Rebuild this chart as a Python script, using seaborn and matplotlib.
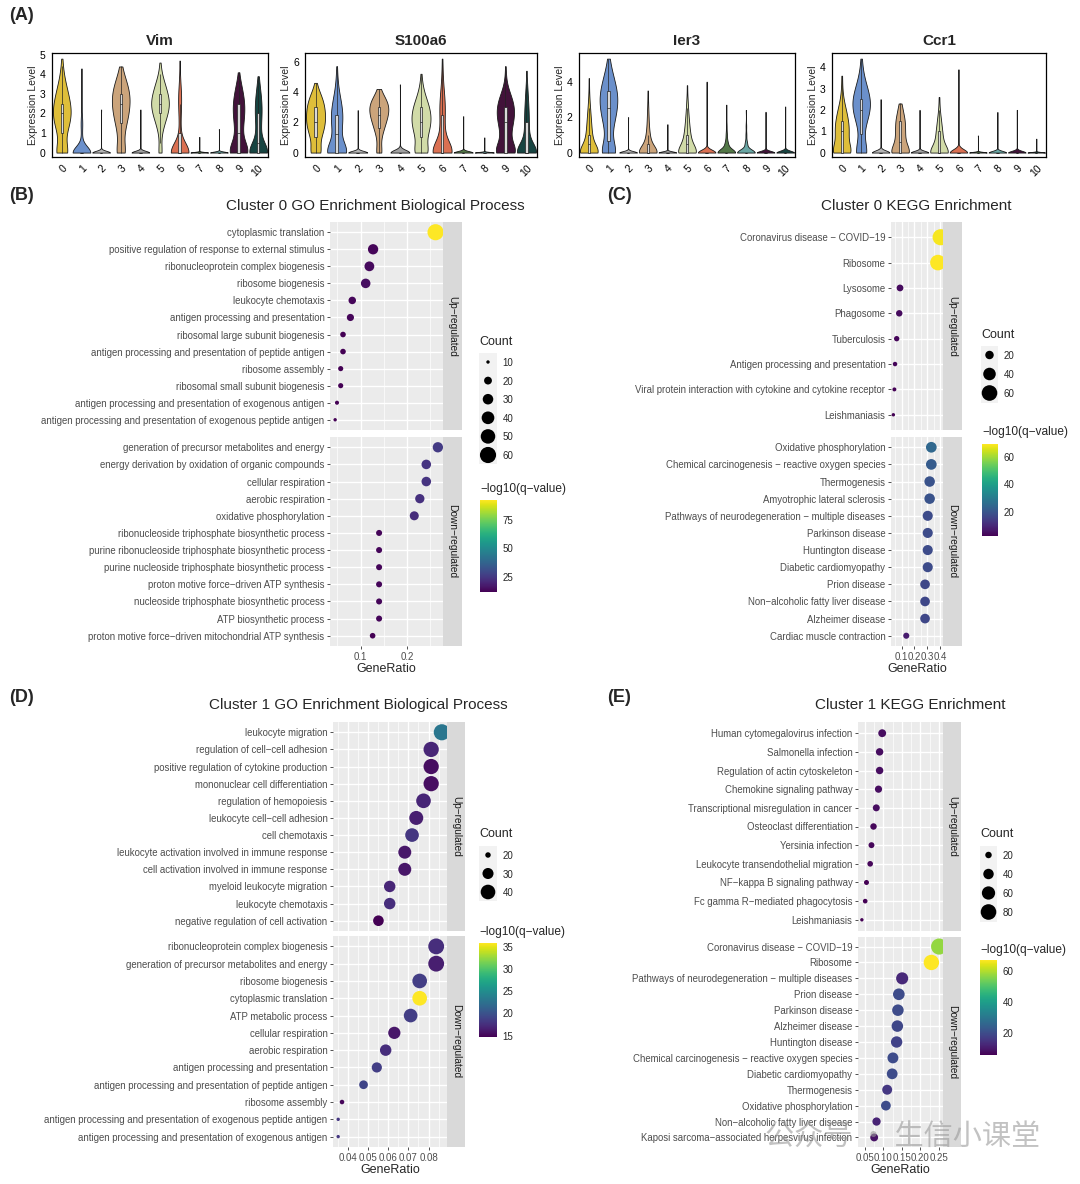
import numpy as np
import pandas as pd
import matplotlib
matplotlib.use("Agg")
import matplotlib.pyplot as plt
from matplotlib.colors import Normalize
from matplotlib.ticker import MultipleLocator, AutoMinorLocator, FormatStrFormatter
import seaborn as sns

W, H = 1080, 1184

sns.set_style("white")
plt.rcParams['font.family'] = ['Liberation Sans', 'DejaVu Sans']

# ---------------- (A) violin data: (expression level, number of cells) per cluster ----------------
clusters = [str(i) for i in range(11)]
cluster_colors = ["#F9CF1F", "#5B8DDB", "#B5B5B5", "#D8A46E", "#A0A0A0", "#D6E3A0",
                  "#F0643C", "#4E7F3E", "#5FB0AE", "#4A0B3F", "#0F4C47"]
genes = ["Vim", "S100a6", "Ier3", "Ccr1"]

vim = [
    [(0, 20), (0.5, 2), (1, 8), (1.5, 14), (2, 17), (2.5, 15), (3, 11), (3.5, 7), (4, 3), (4.4, 1), (4.8, 1)],
    [(0, 80), (0.5, 4), (1, 3), (1.5, 6), (2, 2), (2.5, 1), (3, 1), (3.5, 1), (4.3, 1)],
    [(0, 100), (2.2, 1)],
    [(0, 14), (0.5, 3), (1, 6), (1.5, 10), (2, 14), (2.5, 16), (3, 16), (3.5, 12), (4, 5), (4.4, 1)],
    [(0, 100), (2.2, 1)],
    [(0, 5), (0.5, 1), (1, 3), (1.5, 8), (2, 14), (2.5, 18), (3, 14), (3.5, 9), (4, 3), (4.6, 1)],
    [(0, 70), (0.5, 6), (1, 3), (1.5, 3), (2, 4), (2.5, 6), (3, 6), (3.5, 3), (4, 1), (4.7, 1)],
    [(0, 100), (0.8, 1)],
    [(0, 100), (1.2, 1)],
    [(0, 40), (0.5, 10), (1, 8), (1.5, 11), (2, 14), (2.5, 14), (3, 11), (3.5, 6), (4.1, 1)],
    [(0, 55), (0.5, 10), (1, 7), (1.5, 9), (2, 11), (2.5, 11), (3, 8), (3.5, 4), (3.9, 1)],
]
s100a6 = [
    [(0, 14), (0.5, 3), (1, 8), (1.5, 12), (2, 14), (2.5, 14), (3, 13), (3.5, 11), (4, 6), (4.6, 1)],
    [(0, 35), (0.5, 6), (1, 5), (1.5, 7), (2, 9), (2.5, 9), (3, 8), (3.5, 6), (4, 3), (4.5, 2), (5, 1), (5.7, 1)],
    [(0, 100), (2.8, 1)],
    [(0, 8), (0.5, 2), (1, 4), (1.5, 8), (2, 12), (2.5, 16), (3, 18), (3.5, 14), (4, 3), (4.2, 1)],
    [(0, 100), (4.5, 1)],
    [(0, 18), (0.5, 5), (1, 8), (1.5, 12), (2, 14), (2.5, 14), (3, 12), (3.5, 8), (4, 4), (4.5, 2), (5.2, 1)],
    [(0, 45), (0.5, 8), (1, 4), (1.5, 4), (2, 4), (2.5, 5), (3, 5), (3.5, 5), (4, 3), (4.5, 2), (5, 1), (5.5, 1), (6.2, 1)],
    [(0, 100), (2.4, 1)],
    [(0, 100), (1.0, 1)],
    [(0, 35), (0.5, 10), (1, 8), (1.5, 10), (2, 14), (2.5, 16), (3, 16), (3.5, 13), (4, 7), (4.5, 2), (5, 1), (5.7, 1)],
    [(0, 55), (0.5, 10), (1, 6), (1.5, 6), (2, 6), (2.5, 6), (3, 5), (3.5, 4), (4, 3), (4.5, 2), (5.4, 1)],
]
ier3 = [
    [(0, 45), (0.5, 14), (1, 10), (1.5, 8), (2, 6), (2.5, 4), (3, 2), (3.5, 1), (4.2, 1)],
    [(0, 30), (0.5, 4), (1, 5), (1.5, 9), (2, 13), (2.5, 16), (3, 18), (3.5, 16), (4, 12), (4.5, 7), (5, 3), (5.3, 1)],
    [(0, 100), (2.0, 1)],
    [(0, 45), (0.5, 12), (1, 7), (1.5, 4), (2, 3), (2.5, 2), (3, 1), (3.5, 1)],
    [(0, 100), (1.6, 1)],
    [(0, 40), (0.5, 14), (1, 10), (1.5, 7), (2, 5), (2.5, 3), (3, 2), (3.8, 1)],
    [(0, 100), (4.0, 1)],
    [(0, 60), (0.5, 10), (1, 4), (1.5, 2), (2, 1), (2.7, 1)],
    [(0, 60), (0.5, 8), (1, 3), (1.5, 2), (2.4, 1)],
    [(0, 100), (2.3, 1)],
    [(0, 100), (2.6, 1)],
]
ccr1 = [
    [(0, 24), (0.5, 10), (1, 14), (1.5, 12), (2, 8), (2.5, 3), (3, 1), (3.6, 1)],
    [(0, 16), (0.5, 2), (1, 3), (1.5, 8), (2, 14), (2.5, 14), (3, 9), (3.5, 4), (4, 1), (4.4, 1)],
    [(0, 100), (2.5, 1)],
    [(0, 24), (0.5, 10), (1, 10), (1.5, 10), (2, 5), (2.3, 1)],
    [(0, 100), (2.0, 1)],
    [(0, 28), (0.5, 10), (1, 8), (1.5, 5), (2, 2), (2.6, 1)],
    [(0, 100), (3.9, 1)],
    [(0, 100), (0.8, 1)],
    [(0, 100), (1.9, 1)],
    [(0, 100), (2.0, 1)],
    [(0, 100), (0.65, 1)],
]
violin_data = [vim, s100a6, ier3, ccr1]
violin_yticks = [[0, 1, 2, 3, 4, 5], [0, 2, 4, 6], [0, 2, 4], [0, 1, 2, 3, 4]]

# ---------------- (B) Cluster 0 GO BP ----------------
B_up_terms = ["cytoplasmic translation", "positive regulation of response to external stimulus",
              "ribonucleoprotein complex biogenesis", "ribosome biogenesis", "leukocyte chemotaxis",
              "antigen processing and presentation", "ribosomal large subunit biogenesis",
              "antigen processing and presentation of peptide antigen", "ribosome assembly",
              "ribosomal small subunit biogenesis", "antigen processing and presentation of exogenous antigen",
              "antigen processing and presentation of exogenous peptide antigen"]
B_up_ratio = [0.262, 0.127, 0.119, 0.111, 0.082, 0.078, 0.062, 0.062, 0.057, 0.057, 0.049, 0.045]
B_up_count = [60, 29, 27, 26, 19, 18, 14, 14, 13, 13, 11, 10]
B_up_q = [92, 13, 14, 15, 13, 13, 12, 12, 12, 12, 12, 12]
B_down_terms = ["generation of precursor metabolites and energy", "energy derivation by oxidation of organic compounds",
                "cellular respiration", "aerobic respiration", "oxidative phosphorylation",
                "ribonucleoside triphosphate biosynthetic process",
                "purine ribonucleoside triphosphate biosynthetic process",
                "purine nucleoside triphosphate biosynthetic process", "proton motive force−driven ATP synthesis",
                "nucleoside triphosphate biosynthetic process", "ATP biosynthetic process",
                "proton motive force−driven mitochondrial ATP synthesis"]
B_down_ratio = [0.267, 0.242, 0.242, 0.228, 0.216, 0.140, 0.140, 0.140, 0.140, 0.140, 0.140, 0.126]
B_down_count = [29, 26, 26, 25, 24, 15, 15, 15, 15, 15, 15, 14]
B_down_q = [26, 24, 24, 23, 22, 13, 13, 13, 13, 13, 13, 12]

# ---------------- (C) Cluster 0 KEGG ----------------
C_up_terms = ["Coronavirus disease − COVID−19", "Ribosome", "Lysosome", "Phagosome", "Tuberculosis",
              "Antigen processing and presentation",
              "Viral protein interaction with cytokine and cytokine receptor", "Leishmaniasis"]
C_up_ratio = [0.405, 0.384, 0.087, 0.081, 0.061, 0.048, 0.043, 0.035]
C_up_count = [64, 60, 14, 13, 10, 8, 7, 6]
C_up_q = [68, 69, 5, 5, 4, 4, 3, 3]
C_down_terms = ["Oxidative phosphorylation", "Chemical carcinogenesis − reactive oxygen species", "Thermogenesis",
                "Amyotrophic lateral sclerosis", "Pathways of neurodegeneration − multiple diseases",
                "Parkinson disease", "Huntington disease", "Diabetic cardiomyopathy", "Prion disease",
                "Non−alcoholic fatty liver disease", "Alzheimer disease", "Cardiac muscle contraction"]
C_down_ratio = [0.332, 0.332, 0.319, 0.319, 0.304, 0.304, 0.304, 0.304, 0.283, 0.283, 0.283, 0.136]
C_down_count = [30, 30, 29, 29, 27, 27, 27, 27, 25, 25, 25, 12]
C_down_q = [25, 22, 20, 20, 18, 18, 18, 18, 17, 17, 17, 8]

# ---------------- (D) Cluster 1 GO BP ----------------
D_up_terms = ["leukocyte migration", "regulation of cell−cell adhesion", "positive regulation of cytokine production",
              "mononuclear cell differentiation", "regulation of hemopoiesis", "leukocyte cell−cell adhesion",
              "cell chemotaxis", "leukocyte activation involved in immune response",
              "cell activation involved in immune response", "myeloid leukocyte migration",
              "leukocyte chemotaxis", "negative regulation of cell activation"]
D_up_ratio = [0.0866, 0.0813, 0.0813, 0.0813, 0.0775, 0.0739, 0.0718, 0.0682, 0.0682, 0.0607, 0.0607, 0.0551]
D_up_count = [45, 42, 42, 42, 40, 38, 37, 35, 35, 31, 31, 29]
D_up_q = [23, 17, 15.5, 15.5, 17, 16.5, 18, 16, 16, 17, 17.5, 14.7]
D_down_terms = ["ribonucleoprotein complex biogenesis", "generation of precursor metabolites and energy",
                "ribosome biogenesis", "cytoplasmic translation", "ATP metabolic process", "cellular respiration",
                "aerobic respiration", "antigen processing and presentation",
                "antigen processing and presentation of peptide antigen", "ribosome assembly",
                "antigen processing and presentation of exogenous peptide antigen",
                "antigen processing and presentation of exogenous antigen"]
D_down_ratio = [0.0838, 0.0838, 0.0756, 0.0756, 0.0711, 0.0630, 0.0587, 0.0543, 0.0477, 0.0370, 0.0351, 0.0351]
D_down_count = [44, 44, 40, 40, 37, 33, 31, 28, 25, 19, 18, 18]
D_down_q = [17.5, 16.5, 18.5, 35.8, 18.5, 16, 17.5, 18.5, 19, 15, 18, 18]

# ---------------- (E) Cluster 1 KEGG ----------------
E_up_terms = ["Human cytomegalovirus infection", "Salmonella infection", "Regulation of actin cytoskeleton",
              "Chemokine signaling pathway", "Transcriptional misregulation in cancer", "Osteoclast differentiation",
              "Yersinia infection", "Leukocyte transendothelial migration", "NF−kappa B signaling pathway",
              "Fc gamma R−mediated phagocytosis", "Leishmaniasis"]
E_up_ratio = [0.097, 0.090, 0.090, 0.087, 0.081, 0.0735, 0.068, 0.0645, 0.0545, 0.051, 0.042]
E_up_count = [26, 24, 24, 23, 22, 20, 18, 17, 15, 14, 11]
E_up_q = [8, 8, 8, 8, 8, 7, 7, 7, 6, 6, 6]
E_down_terms = ["Coronavirus disease − COVID−19", "Ribosome", "Pathways of neurodegeneration − multiple diseases",
                "Prion disease", "Parkinson disease", "Alzheimer disease", "Huntington disease",
                "Chemical carcinogenesis − reactive oxygen species", "Diabetic cardiomyopathy", "Thermogenesis",
                "Oxidative phosphorylation", "Non−alcoholic fatty liver disease",
                "Kaposi sarcoma−associated herpesvirus infection"]
E_down_ratio = [0.251, 0.230, 0.151, 0.142, 0.1395, 0.138, 0.136, 0.126, 0.124, 0.1105, 0.107, 0.0817, 0.0753]
E_down_count = [85, 78, 51, 48, 47, 47, 46, 43, 42, 37, 36, 28, 26]
E_down_q = [57, 67, 13, 20, 20, 19, 18, 20, 20, 16, 20, 12, 9]

fig = plt.figure(figsize=(W / 100, H / 100), dpi=100)


def fax(l, t, r, b):
    return fig.add_axes([l / W, 1 - b / H, (r - l) / W, (b - t) / H])


def ftext(x, y, s, **kw):
    fig.text(x / W, 1 - y / H, s, **kw)


# ---------------- panel A ----------------
violin_boxes = [(52, 53, 268, 157), (305, 53, 537, 157), (579, 53, 795, 157), (832, 53, 1046, 157)]
for gene, gdata, box, yt in zip(genes, violin_data, violin_boxes, violin_yticks):
    parts = []
    for cl, pairs in zip(clusters, gdata):
        vals, cnts = zip(*pairs)
        parts.append(pd.DataFrame({"cluster": cl, "expr": np.repeat(vals, cnts)}))
    df = pd.concat(parts, ignore_index=True)
    ax = fax(*box)
    sns.violinplot(data=df, x="cluster", y="expr", hue="cluster", order=clusters, hue_order=clusters,
                   palette=cluster_colors, density_norm="width", cut=0, inner=None, width=0.9,
                   linewidth=0.6, linecolor="#1a1a1a", legend=False, ax=ax)
    sns.boxplot(data=df, x="cluster", y="expr", order=clusters, width=0.12, showfliers=False,
                showcaps=False, color="#d9d9d9", linewidth=0.5, linecolor="#222222", ax=ax)
    ymax = df["expr"].max()
    ax.set_ylim(-0.045 * ymax * 1.05, ymax * 1.06)
    ax.set_yticks(yt)
    ax.set_xlabel("")
    ax.set_ylabel("Expression Level", fontsize=7.5, labelpad=1)
    ax.set_title(gene, fontsize=11, fontweight="bold", pad=6)
    for sp in ax.spines.values():
        sp.set_visible(True)
        sp.set_color("black")
        sp.set_linewidth(0.9)
    ax.tick_params(axis="both", labelsize=7.5, length=3, width=0.8, pad=1.5, colors="black")
    for lab in ax.get_xticklabels():
        lab.set_rotation(45)
        lab.set_ha("right")
        lab.set_rotation_mode("anchor")


# ---------------- dot plots ----------------
def facet(rect, strip_r, terms, ratio, count, q, xlim, snorm, qnorm, bottom, major, fmt, strip_label):
    ax = fax(*rect)
    df = pd.DataFrame({"term": terms, "GeneRatio": ratio, "Count": count, "q": q})
    ax.set_facecolor("#EBEBEB")
    sns.scatterplot(data=df, x="GeneRatio", y="term", size="Count", sizes=(6, 135), size_norm=snorm,
                    hue="q", palette="viridis", hue_norm=qnorm, linewidth=0, legend=False, ax=ax, zorder=3)
    n = len(terms)
    ax.set_ylim(n - 1 + 0.6, -0.6)
    ax.set_xlim(*xlim)
    ax.xaxis.set_major_locator(MultipleLocator(major))
    ax.xaxis.set_minor_locator(AutoMinorLocator(2))
    ax.xaxis.set_major_formatter(FormatStrFormatter(fmt))
    ax.grid(which="major", color="white", linewidth=1.0)
    ax.grid(which="minor", axis="x", color="white", linewidth=0.5)
    ax.set_axisbelow(True)
    for sp in ax.spines.values():
        sp.set_visible(False)
    ax.set_ylabel("")
    ax.tick_params(axis="y", labelsize=6.9, labelcolor="#4D4D4D", length=2.5, width=0.6,
                   color="#333333", pad=1.5, left=True)
    ax.tick_params(axis="x", which="minor", length=0)
    if bottom:
        ax.tick_params(axis="x", which="major", labelsize=7, labelcolor="#4D4D4D", length=2.5,
                       width=0.6, color="#333333", pad=1.5, bottom=True)
        ax.set_xlabel("GeneRatio", fontsize=9, labelpad=1)
    else:
        ax.tick_params(axis="x", which="major", bottom=False, labelbottom=False)
        ax.set_xlabel("")
    sax = fax(rect[2], rect[1], strip_r, rect[3])
    sax.set_facecolor("#D9D9D9")
    sax.set_xticks([])
    sax.set_yticks([])
    for sp in sax.spines.values():
        sp.set_visible(False)
    sax.text(0.5, 0.5, strip_label, rotation=270, ha="center", va="center", fontsize=7.3,
             color="#1A1A1A", transform=sax.transAxes)


def dot_panel(up, down, lay):
    terms_u, ratio_u, count_u, q_u = up
    terms_d, ratio_d, count_d, q_d = down
    allr = ratio_u + ratio_d
    lo, hi = min(allr), max(allr)
    xlim = (lo - 0.05 * (hi - lo), hi + 0.05 * (hi - lo))
    snorm = (min(count_u + count_d), max(count_u + count_d))
    qnorm = Normalize(min(q_u + q_d), max(q_u + q_d))
    l, r, sr = lay["x"]
    facet((l, lay["up"][0], r, lay["up"][1]), sr, terms_u, ratio_u, count_u, q_u, xlim, snorm, qnorm,
          False, lay["major"], lay["fmt"], "Up−regulated")
    facet((l, lay["down"][0], r, lay["down"][1]), sr, terms_d, ratio_d, count_d, q_d, xlim, snorm, qnorm,
          True, lay["major"], lay["fmt"], "Down−regulated")
    ftext(*lay["title_xy"], lay["title"], ha="center", va="center", fontsize=11)

    # size legend
    lv = lay["levels"]
    cx0, cx1 = lay["key_x"]
    ky, step = lay["key_y"]
    ftext(cx0, lay["count_y"], "Count", ha="left", va="center", fontsize=9)
    lax = fax(cx0, ky - step / 2, cx1, ky + step * (len(lv) - 0.5))
    lax.set_facecolor("#F2F2F2")
    sns.scatterplot(x=[0] * len(lv), y=list(range(len(lv))), size=lv, sizes=(6, 135), size_norm=snorm,
                    color="black", linewidth=0, legend=False, ax=lax)
    lax.set_xlim(-1, 1)
    lax.set_ylim(len(lv) - 0.5, -0.5)
    lax.set_xticks([])
    lax.set_yticks(range(len(lv)))
    lax.set_yticklabels([str(v) for v in lv])
    lax.yaxis.tick_right()
    lax.tick_params(axis="y", length=0, labelsize=7, pad=4)
    for sp in lax.spines.values():
        sp.set_visible(False)

    # colour bar
    cb_rect = lay["cbar"]
    ftext(cb_rect[0], lay["cbar_title_y"], "−log10(q−value)", ha="left", va="center", fontsize=8.6)
    cax = fax(*cb_rect)
    sm = plt.cm.ScalarMappable(norm=qnorm, cmap="viridis")
    cb = fig.colorbar(sm, cax=cax, ticks=lay["cbar_ticks"])
    cb.outline.set_visible(False)
    cax.yaxis.set_ticks_position("both")
    cax.tick_params(axis="y", direction="in", length=3, width=0.6, color="white",
                    labelsize=7, labelleft=False, labelright=True, pad=4)


dot_panel((B_up_terms, B_up_ratio, B_up_count, B_up_q), (B_down_terms, B_down_ratio, B_down_count, B_down_q),
          dict(x=(330, 443, 462), up=(222, 430), down=(437, 646), major=0.1, fmt="%.1f",
               title="Cluster 0 GO Enrichment Biological Process", title_xy=(375, 206),
               levels=[10, 20, 30, 40, 50, 60], key_x=(479, 497), key_y=(362, 18.6), count_y=342,
               cbar=(480, 500, 497, 592), cbar_title_y=489, cbar_ticks=[25, 50, 75]))

dot_panel((C_up_terms, C_up_ratio, C_up_count, C_up_q), (C_down_terms, C_down_ratio, C_down_count, C_down_q),
          dict(x=(891, 943, 962), up=(222, 430), down=(437, 646), major=0.1, fmt="%.1f",
               title="Cluster 0 KEGG Enrichment", title_xy=(916, 206),
               levels=[20, 40, 60], key_x=(981, 998), key_y=(355, 19), count_y=335,
               cbar=(982, 444, 998, 536), cbar_title_y=432, cbar_ticks=[20, 40, 60]))

dot_panel((D_up_terms, D_up_ratio, D_up_count, D_up_q), (D_down_terms, D_down_ratio, D_down_count, D_down_q),
          dict(x=(333, 447, 465), up=(722, 931), down=(936, 1147), major=0.01, fmt="%.2f",
               title="Cluster 1 GO Enrichment Biological Process", title_xy=(358, 705),
               levels=[20, 30, 40], key_x=(479, 497), key_y=(855, 18.5), count_y=834,
               cbar=(479, 943, 497, 1037), cbar_title_y=932, cbar_ticks=[15, 20, 25, 30, 35]))

dot_panel((E_up_terms, E_up_ratio, E_up_count, E_up_q), (E_down_terms, E_down_ratio, E_down_count, E_down_q),
          dict(x=(858, 943, 961), up=(722, 931), down=(937, 1147), major=0.05, fmt="%.2f",
               title="Cluster 1 KEGG Enrichment", title_xy=(910, 705),
               levels=[20, 40, 60, 80], key_x=(980, 997), key_y=(855, 19), count_y=834,
               cbar=(980, 960, 997, 1055), cbar_title_y=950, cbar_ticks=[20, 40, 60]))

# panel letters
for lab, x, y in [("(A)", 9, 15), ("(B)", 9, 195), ("(C)", 607, 195), ("(D)", 9, 698), ("(E)", 607, 698)]:
    ftext(x, y, lab, ha="left", va="center", fontsize=13, fontweight="bold")

# watermark
ftext(765, 1138, "公众号 · 生信小课堂", ha="left", va="center", fontsize=21, color="#9a9a9a", alpha=0.6,
      family=["Noto Sans CJK SC", "DejaVu Sans"])

fig.savefig("out.png", dpi=100)
